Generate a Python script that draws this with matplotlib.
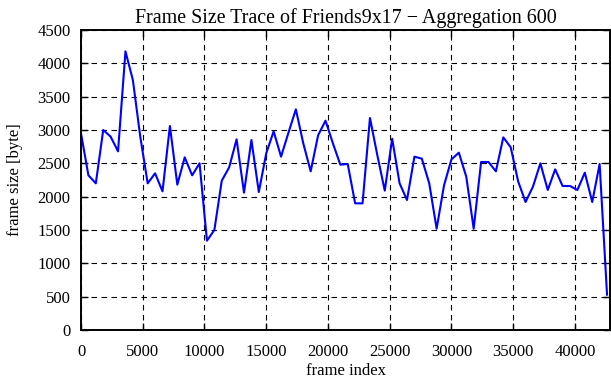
#!/usr/bin/env python3

import numpy as np
import matplotlib
matplotlib.use('Agg')
import matplotlib.pyplot as plt

# frame index of each aggregated sample (aggregation 600)
frame_index = np.arange(0, 42601, 600)

# aggregated frame size in bytes
frame_size = [
    2950, 2320, 2200, 3000, 2900, 2680, 4180, 3750, 2900, 2200,
    2350, 2080, 3060, 2180, 2590, 2320, 2500, 1340, 1500, 2240,
    2440, 2860, 2060, 2850, 2070, 2650, 2980, 2600, 2960, 3310,
    2800, 2380, 2920, 3140, 2800, 2480, 2490, 1900, 1900, 3180,
    2620, 2090, 2870, 2200, 1950, 2600, 2570, 2200, 1520, 2170,
    2560, 2660, 2300, 1520, 2520, 2520, 2380, 2890, 2740, 2230,
    1920, 2150, 2500, 2100, 2410, 2160, 2160, 2100, 2360, 1920,
    2490, 530,
]

x_ticks = np.arange(0, 40001, 5000)
y_ticks = np.arange(0, 4501, 500)

plt.rcParams['font.family'] = ['Liberation Serif', 'DejaVu Serif']
plt.rcParams['font.size'] = 12

fig = plt.figure(figsize=(6.11, 3.80), dpi=100)
ax = fig.add_axes([81 / 611, 1 - 330 / 380, 529 / 611, 300 / 380])

ax.plot(frame_index, frame_size, color='#0000ff', linewidth=1.5)

ax.set_xlim(0, 42840)
ax.set_ylim(0, 4500)
ax.set_xticks(x_ticks)
ax.set_yticks(y_ticks)
ax.grid(True, color='black', linestyle=(0, (5, 4)), linewidth=0.8)

ax.tick_params(direction='in', length=5, width=1, top=True, right=True)
ax.tick_params(axis='x', pad=10)
ax.tick_params(axis='y', pad=7.5)
for s in ax.spines.values():
    s.set_linewidth(1.4)

ax.set_xlabel('frame index', labelpad=2)
ax.set_ylabel('frame size [byte]', labelpad=10)
ax.set_title('Frame Size Trace of Friends9x17 \u2212 Aggregation 600', pad=5)

fig.savefig('out.png', dpi=100)
